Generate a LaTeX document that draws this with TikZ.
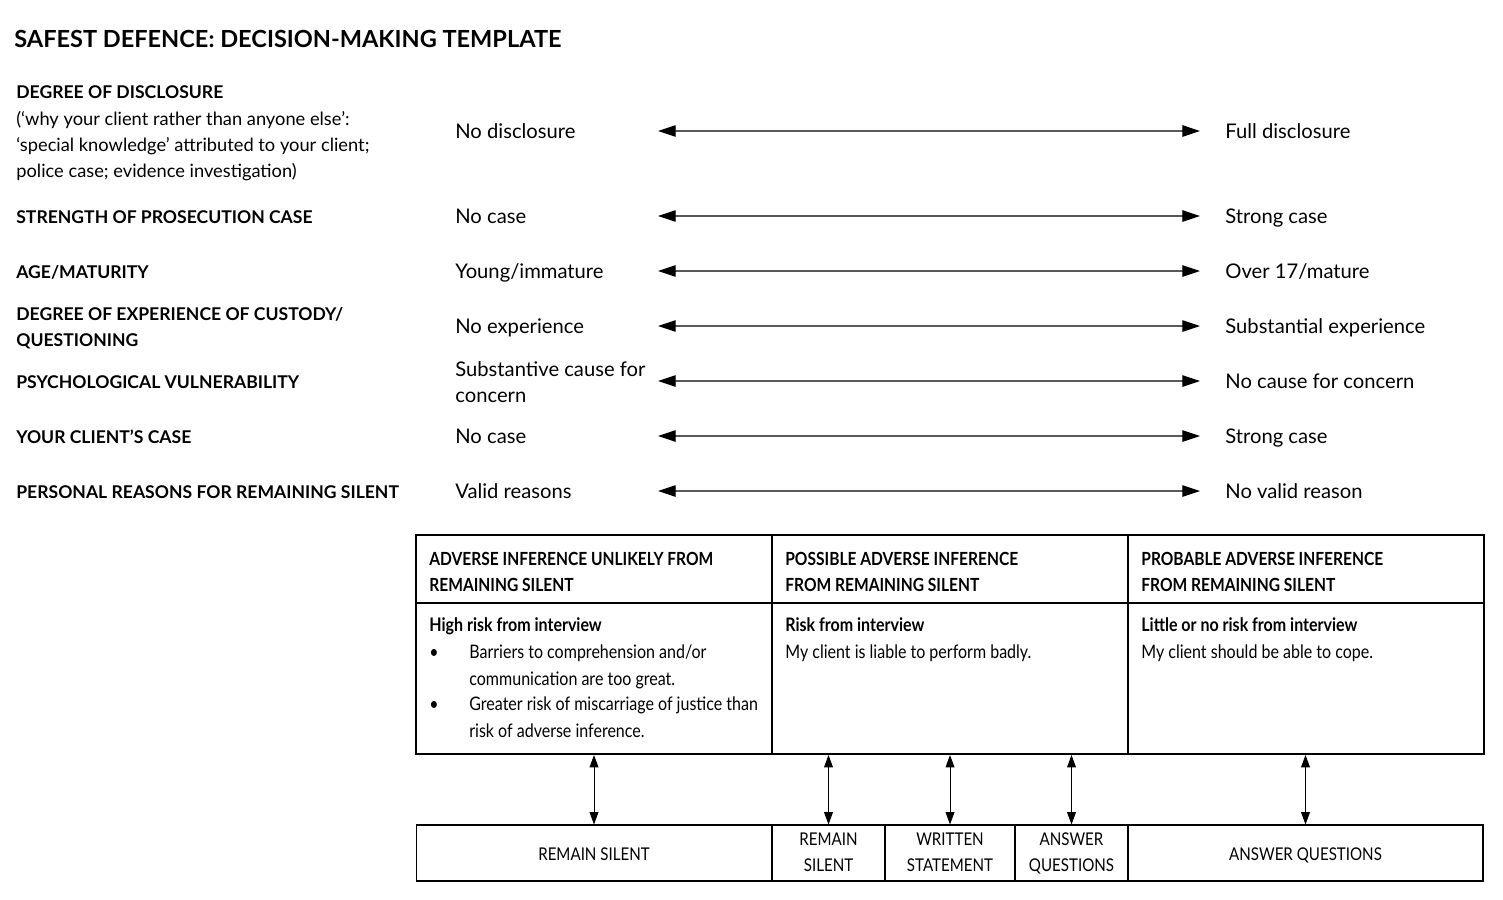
\documentclass[tikz,border=0pt]{standalone}
\usepackage{fontspec}
\setmainfont{Lato}
\newfontfamily\condfont[FakeStretch=0.86]{Lato}
\usetikzlibrary{arrows.meta,positioning,calc}
\newcommand\factorhead[1]{{\fontsize{10}{15}\selectfont\bfseries #1}}
\newcommand\optlbl[1]{\raisebox{-1.6pt}{\begin{tabular}{@{}c@{}}#1\end{tabular}}}

\begin{document}
\begin{tikzpicture}[x=0.02cm,y=-0.02cm,
    every node/.style={execute at begin node=\strut,execute at end node=\strut},
    txt/.style={anchor=west,inner sep=0pt,align=left,yshift=-1.2pt},
    multi/.style={yshift=-1.6pt},
    factorlbl/.style={txt,font=\fontsize{10.4}{15}\selectfont},
    endlbl/.style={txt,font=\fontsize{11.5}{15}\selectfont},
    spanarrow/.style={{Triangle[length=10pt,width=6.5pt,color=black]}-{Triangle[length=10pt,width=6.5pt,color=black]},line width=0.6pt,black!65},
    linkarrow/.style={{Triangle[length=7pt,width=5pt]}-{Triangle[length=7pt,width=5pt]},line width=0.5pt},
    tabhead/.style={txt,multi,font=\condfont\fontsize{10.3}{15}\selectfont\bfseries},
    tabcell/.style={txt,font=\condfont\fontsize{10.6}{15}\selectfont},
    optbox/.style={draw,line width=0.6pt,inner sep=0pt,minimum height=1.12cm,font=\condfont\fontsize{10}{15}\selectfont,
      every node/.style={}}]
  \useasboundingbox (0,0) rectangle (1503,899);

  % Title
  \node[txt,font=\fontsize{13.4}{15}\selectfont\bfseries] (title) at (14,40) {SAFEST DEFENCE: DECISION-MAKING TEMPLATE};

  % Factors (left column)
  \node[factorlbl,multi] (f1) at (16,131) {\factorhead{DEGREE OF DISCLOSURE}\\(‘why your client rather than anyone else’:\\‘special knowledge’ attributed to your client;\\police case; evidence investigation)};
  \node[factorlbl] (f2) at (16,216) {\factorhead{STRENGTH OF PROSECUTION CASE}};
  \node[factorlbl] (f3) at (16,271) {\factorhead{AGE/MATURITY}};
  \node[factorlbl,multi] (f4) at (16,326) {\factorhead{DEGREE OF EXPERIENCE OF CUSTODY/}\\\factorhead{QUESTIONING}};
  \node[factorlbl] (f5) at (16,381) {\factorhead{PSYCHOLOGICAL VULNERABILITY}};
  \node[factorlbl] (f6) at (16,436) {\factorhead{YOUR CLIENT’S CASE}};
  \node[factorlbl] (f7) at (16,491) {\factorhead{PERSONAL REASONS FOR REMAINING SILENT}};

  % Low ends
  \node[endlbl] (lo1) at (455,131) {No disclosure};
  \node[endlbl] (lo2) at (455,216) {No case};
  \node[endlbl] (lo3) at (455,271) {Young/immature};
  \node[endlbl] (lo4) at (455,326) {No experience};
  \node[endlbl,multi] (lo5) at (455,381) {Substantive cause for\\concern};
  \node[endlbl] (lo6) at (455,436) {No case};
  \node[endlbl] (lo7) at (455,491) {Valid reasons};

  % High ends
  \node[endlbl] (hi1) at (1225,131) {Full disclosure};
  \node[endlbl] (hi2) at (1225,216) {Strong case};
  \node[endlbl] (hi3) at (1225,271) {Over 17/mature};
  \node[endlbl] (hi4) at (1225,326) {Substantial experience};
  \node[endlbl] (hi5) at (1225,381) {No cause for concern};
  \node[endlbl] (hi6) at (1225,436) {Strong case};
  \node[endlbl] (hi7) at (1225,491) {No valid reason};

  % Ranges
  \foreach \i/\y in {1/131,2/216,3/271,4/326,5/381,6/436,7/491}{
    \coordinate (a\i) at (658,\y);
    \coordinate (b\i) at (1200,\y);
    \draw[spanarrow] (a\i) -- (b\i);
  }

  % Inference table
  \draw[line width=0.6pt] (416,535) rectangle (1484,754);
  \draw[line width=0.6pt] (416,603) -- (1484,603);
  \draw[line width=0.6pt] (772,535) -- (772,754);
  \draw[line width=0.6pt] (1128,535) -- (1128,754);

  \node[tabhead] (h1) at (429,571) {ADVERSE INFERENCE UNLIKELY FROM\\REMAINING SILENT};
  \node[tabhead] (h2) at (785,571) {POSSIBLE ADVERSE INFERENCE\\FROM REMAINING SILENT};
  \node[tabhead] (h3) at (1141,571) {PROBABLE ADVERSE INFERENCE\\FROM REMAINING SILENT};

  \node[tabcell] (r1) at (429,624) {\bfseries High risk from interview};
  \node[tabcell] (dot1) at (429,651) {\textbullet};
  \node[tabcell,multi] (r1a) at (469,664) {Barriers to comprehension and/or\\communication are too great.};
  \node[tabcell] (dot2) at (429,703) {\textbullet};
  \node[tabcell,multi] (r1b) at (469,716) {Greater risk of miscarriage of justice than\\risk of adverse inference.};

  \node[tabcell,multi] (r2) at (785,637) {\bfseries Risk from interview\\My client is liable to perform badly.};
  \node[tabcell,multi] (r3) at (1141,637) {\bfseries Little or no risk from interview\\My client should be able to cope.};

  % Options
  \node[optbox,minimum width=7.12cm] (silent) at (594,853) {\optlbl{REMAIN SILENT}};
  \node[optbox,minimum width=2.26cm] (silent2) at (828.5,853) {\optlbl{REMAIN\\SILENT}};
  \node[optbox,minimum width=2.6cm] (written) at (950,853) {\optlbl{WRITTEN\\STATEMENT}};
  \node[optbox,minimum width=2.26cm] (answer2) at (1071.5,853) {\optlbl{ANSWER\\QUESTIONS}};
  \node[optbox,minimum width=7.1cm] (answer) at (1305.5,853) {\optlbl{ANSWER QUESTIONS}};

  \coordinate (t1) at (594,755);
  \coordinate (t2) at (828.5,755);
  \coordinate (t3) at (950,755);
  \coordinate (t4) at (1071.5,755);
  \coordinate (t5) at (1305.5,755);
  \draw[linkarrow] (t1) -- (silent.north);
  \draw[linkarrow] (t2) -- (silent2.north);
  \draw[linkarrow] (t3) -- (written.north);
  \draw[linkarrow] (t4) -- (answer2.north);
  \draw[linkarrow] (t5) -- (answer.north);
\end{tikzpicture}
\end{document}
